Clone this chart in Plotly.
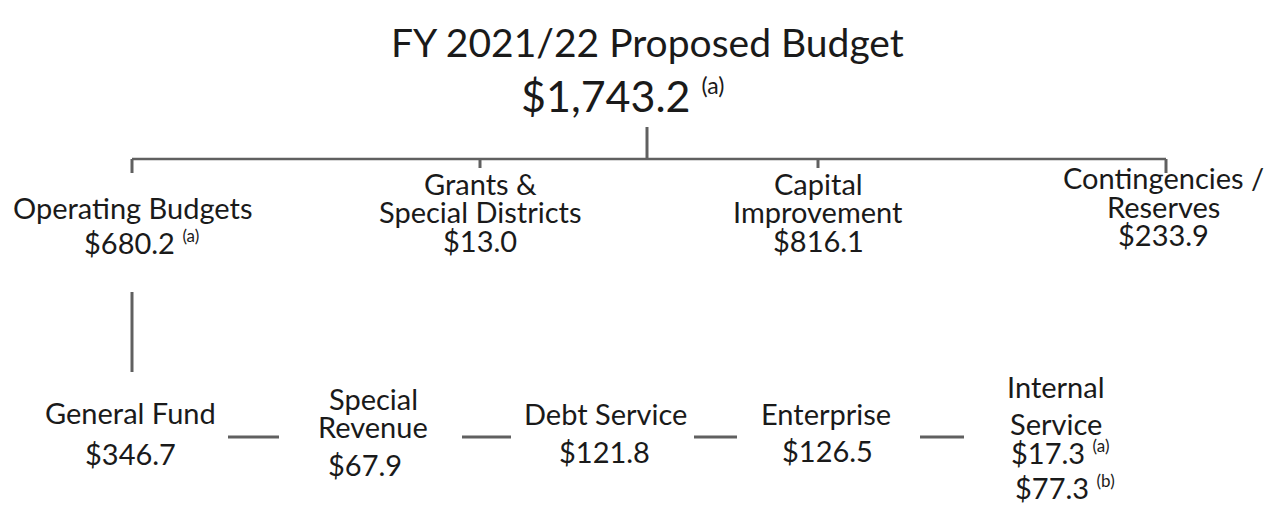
import plotly.graph_objects as go

# ---- data ----
title = "FY 2021/22 Proposed Budget"
total_value = 1743.2
total_note = "(a)"

top_labels = [["Operating Budgets"], ["Grants &", "Special Districts"],
              ["Capital", "Improvement"], ["Contingencies /", "Reserves"]]
top_values = [680.2, 13.0, 816.1, 233.9]
top_notes = ["(a)", "", "", ""]

fund_labels = [["General Fund"], ["Special", "Revenue"], ["Debt Service"],
               ["Enterprise"], ["Internal", "Service"]]
fund_values = [346.7, 67.9, 121.8, 126.5, 17.3]
fund_notes = ["", "", "", "", "(a)"]
internal_service_b = 77.3
internal_service_b_note = "(b)"

# ---- layout (page pixel positions; the page body has an 8px margin) ----
PAGE_W, PAGE_H, BODY = 1272, 506, 8
W, H = PAGE_W - BODY, PAGE_H - BODY
FONT = "Lato"
INK = "#1a1a1a"
LINE = "#606060"

root_x = 647
bar_y = 159
top_x = [132, 480, 818, 1163]
top_val_x = [141, 480, 818, 1163]
tick_x = [132, 480, 818, 1166]
top_line_y = [[207], [183, 211], [183, 211], [177, 206]]
top_val_y = [242, 240, 240, 234]

fund_x = [130, 373, 605, 826, 1056]
fund_line_y = [[412], [398, 426], [413], [413], [386, 423]]
fund_val_x = [130, 365, 604, 827, None]
fund_val_y = [453, 464, 451, 450, 452]
dash_x = [(228, 279), (462, 511), (694, 737), (920, 964)]
dash_y = 437

fig = go.Figure()


def line(xs, ys, w=2.5):
    fig.add_trace(go.Scatter(x=xs, y=ys, mode="lines", hoverinfo="skip",
                             line=dict(color=LINE, width=w), showlegend=False))


def text(x, y, s, size=29, anchor="center"):
    fig.add_annotation(x=x, y=y, text=s, showarrow=False, xanchor=anchor,
                       yanchor="middle", font=dict(family=FONT, size=size, color=INK))


def money(v, note="", size=17):
    s = "${:,.1f}".format(v)
    if note:
        s += " <sup><span style='font-size:%dpx'>%s</span></sup>" % (size, note)
    return s


# connectors
line([root_x, root_x], [127, bar_y], w=3)
line([tick_x[0], tick_x[-1]], [bar_y, bar_y])
for i, tx in enumerate(tick_x):
    line([tx, tx], [bar_y, bar_y + (14 if i in (0, 3) else 9)], w=3)
line([tick_x[0], tick_x[0]], [292, 372], w=3)
for a, b in dash_x:
    line([a, b], [dash_y, dash_y], w=3)

# title
text(647, 42, title, size=39)
text(622, 95, money(total_value, total_note, 23), size=43)

# top level
for i, lines in enumerate(top_labels):
    for s, y in zip(lines, top_line_y[i]):
        text(top_x[i], y, s)
    text(top_val_x[i], top_val_y[i], money(top_values[i], top_notes[i]))

# funds
for i, lines in enumerate(fund_labels):
    for s, y in zip(lines, fund_line_y[i]):
        text(fund_x[i], y, s)
    if fund_val_x[i] is None:
        text(1009, fund_val_y[i], money(fund_values[i], fund_notes[i]), anchor="left")
        text(1013, 487, money(internal_service_b, internal_service_b_note), anchor="left")
    else:
        text(fund_val_x[i], fund_val_y[i], money(fund_values[i], fund_notes[i]))

fig.update_layout(
    width=W, height=H,
    margin=dict(l=0, r=0, t=0, b=0),
    paper_bgcolor="white", plot_bgcolor="white",
    xaxis=dict(range=[BODY, BODY + W], visible=False, fixedrange=True),
    yaxis=dict(range=[BODY + H, BODY], visible=False, fixedrange=True),
)

fig.write_html("out.html")
